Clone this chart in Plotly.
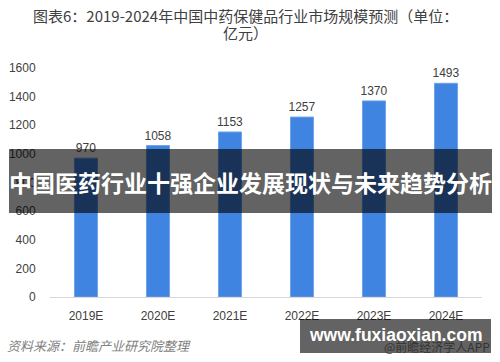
import plotly.graph_objects as go

categories = ["2019E", "2020E", "2021E", "2022E", "2023E", "2024E"]
values = [970, 1058, 1153, 1257, 1370, 1493]
y_ticks = [0, 200, 400, 600, 800, 1000, 1200, 1400, 1600]

FONT = "Liberation Sans, Noto Sans CJK SC, sans-serif"
CJK = "Noto Sans CJK SC, sans-serif"

# plot area in pixels: x 50..482, y 68..297
L, R, T, B = 50, 482, 68, 297
W, H = 500, 362
def px(x):
    return (x - L) / (R - L)
def py(y):
    return (B - y) / (B - T)

fig = go.Figure()
fig.add_trace(go.Bar(
    x=categories, y=values,
    marker=dict(color="#3f84e0", line=dict(color="#6ea3ea", width=1)),
    text=[str(v) for v in values], textposition="outside",
    constraintext="none",
    textfont=dict(size=12, color="#404040", family=FONT),
    cliponaxis=False,
))

fig.update_layout(
    width=W, height=H,
    margin=dict(l=L, r=W - R, t=T, b=H - B, autoexpand=False),
    paper_bgcolor="white", plot_bgcolor="white",
    bargap=0.68,
    showlegend=False,
    font=dict(family=FONT, size=12, color="#595959"),
    xaxis=dict(showline=True, linecolor="#d9d9d9", linewidth=1,
               ticks="outside", ticklen=8, tickcolor="rgba(0,0,0,0)",
               tickfont=dict(size=12, color="#404040"), showgrid=False,
               automargin=False),
    yaxis=dict(range=[0, 1600], tickvals=y_ticks, showgrid=False, showline=False,
               zeroline=False, ticks="outside", ticklen=11,
               tickcolor="rgba(0,0,0,0)", automargin=False,
               tickfont=dict(size=12, color="#404040")),
)

# banner overlay and watermark box
fig.add_shape(type="rect", xref="paper", yref="paper",
              x0=px(9), x1=px(492), y0=py(213), y1=py(149),
              fillcolor="rgba(0,0,0,0.61)", line=dict(width=0), layer="above")
fig.add_shape(type="rect", xref="paper", yref="paper",
              x0=px(300), x1=px(491), y0=py(353), y1=py(319),
              fillcolor="rgba(0,0,0,0.61)", line=dict(width=0), layer="above")

annotations = [
    dict(text="图表6：2019-2024年中国中药保健品行业市场规模预测（单位：",
         x=px(245), y=py(16), xref="paper", yref="paper", showarrow=False,
         xanchor="center", yanchor="middle",
         font=dict(size=15, color="#404040", family=CJK)),
    dict(text="亿元）",
         x=px(245), y=py(32), xref="paper", yref="paper", showarrow=False,
         xanchor="center", yanchor="middle",
         font=dict(size=15, color="#404040", family=CJK)),
    dict(text="<b>中国医药行业十强企业发展现状与未来趋势分析</b>",
         x=px(250), y=py(182), xref="paper", yref="paper", showarrow=False,
         xanchor="center", yanchor="middle",
         font=dict(size=23, color="white", family=CJK)),
    dict(text="资料来源：前瞻产业研究院整理",
         x=px(99), y=py(345), xref="paper", yref="paper", showarrow=False,
         xanchor="center", yanchor="middle",
         font=dict(size=13, color="#7f7f7f", family=CJK, style="italic")),
    dict(text="@前瞻经济学人APP",
         x=px(382), y=py(346), xref="paper", yref="paper", showarrow=False,
         xanchor="left", yanchor="middle",
         font=dict(size=12, color="#333333", family=CJK)),
    dict(text="<b>www.fuxiaoxian.com</b>",
         x=px(395), y=py(335), xref="paper", yref="paper", showarrow=False,
         xanchor="center", yanchor="middle",
         font=dict(size=17.5, color="white", family="Liberation Sans, Arial, sans-serif")),
]
fig.update_layout(annotations=annotations)

fig.write_html("out.html", config={"displayModeBar": False},
               post_script="document.body.style.margin='0';document.body.style.padding='0';")
